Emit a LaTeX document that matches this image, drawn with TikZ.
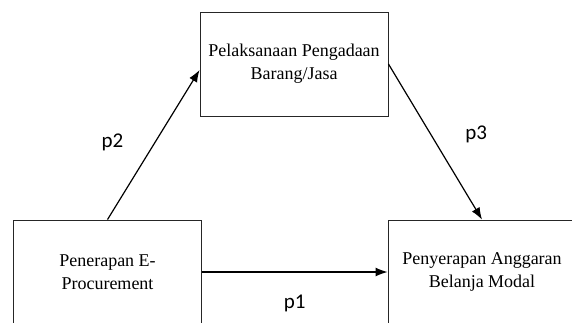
\documentclass[tikz,border=0pt]{standalone}
\usepackage{fontspec}
\setmainfont{Liberation Serif}
\newfontfamily\labelfont{Carlito}
\usetikzlibrary{arrows.meta}

\begin{document}
\begin{tikzpicture}[
  x=1pt, y=-1pt,
  every node/.style={align=center},
  varbox/.style={draw=black!85, line width=0.9pt, minimum width=188pt,
                 minimum height=104pt, inner sep=0pt,
                 font=\fontsize{18}{23}\selectfont},
  plabel/.style={font=\labelfont\fontsize{21}{25}\selectfont},
  arr/.style={-{Latex[length=12pt,width=9pt]}, line width=1.2pt}
]
  \useasboundingbox (0,0) rectangle (572,322);
  \clip (0,0) rectangle (572,322);

  \node[varbox] (tbox) at (294,64) {Pelaksanaan Pengadaan\\Barang/Jasa};
  \node[varbox] (lbox) at (107.5,272) {Penerapan E-\\Procurement};
  \node[varbox] (rbox) at (482,272) {Penyerapan Anggaran\\Belanja Modal};

  \draw[arr] (lbox.north) -- node[plabel, midway, xshift=-41pt, yshift=2pt]{p2} ([yshift=-6pt]tbox.west);
  \draw[arr] (tbox.east) -- node[plabel, midway, xshift=41pt, yshift=7pt]{p3} (rbox.north);
  \draw[arr] (lbox.east) -- node[plabel, midway, yshift=-31pt]{p1} (rbox.west);
\end{tikzpicture}
\end{document}
